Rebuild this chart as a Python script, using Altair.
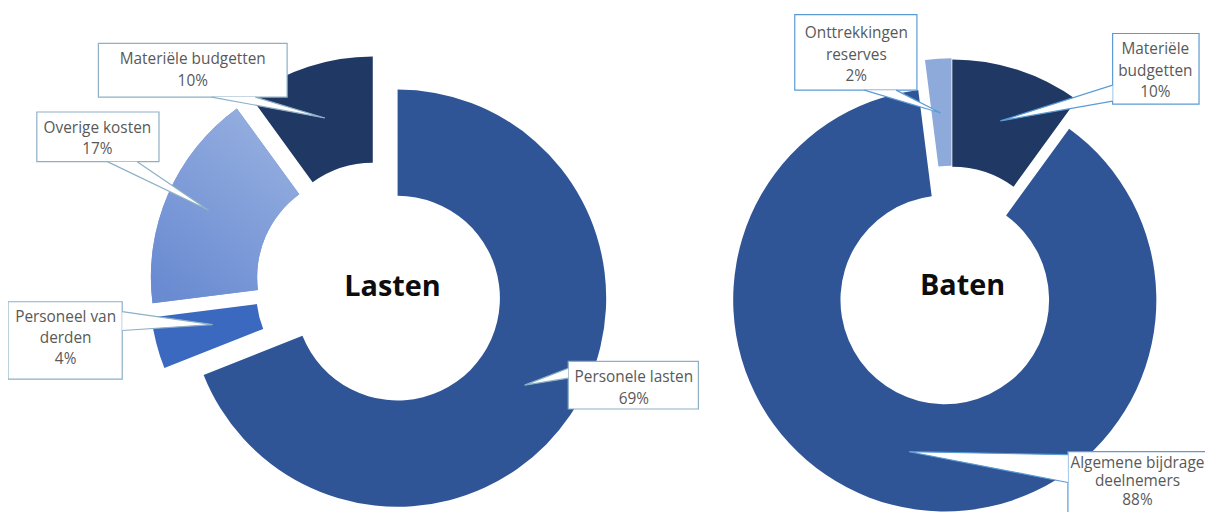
import math
import altair as alt
import pandas as pd

# ---------------- data ----------------
lasten_labels = ["Personele lasten", "Personeel van derden", "Overige kosten", "Materiële budgetten"]
lasten_values = [69, 4, 17, 10]
baten_labels = ["Materiële budgetten", "Algemene bijdrage deelnemers", "Onttrekkingen reserves"]
baten_values = [10, 88, 2]

lasten_text = [["Personele lasten", "69%"], ["Personeel van", "derden", "4%"],
               ["Overige kosten", "17%"], ["Materiële budgetten", "10%"]]
baten_text = [["Materiële", "budgetten", "10%"], ["Algemene bijdrage", "deelnemers", "88%"],
              ["Onttrekkingen", "reserves", "2%"]]

# ---------------- style ----------------
OFF = 8  # page margin
color_domain = ["Materiële budgetten", "Personele lasten", "Algemene bijdrage deelnemers",
                "Personeel van derden", "Overige kosten", "Onttrekkingen reserves"]
color_range = ["#203864", "#2F5597", "#2F5597", "#3B69BF", "#7F9BD6", "#8EAADB"]

# donut geometry: centre, outer, inner radius, explode per slice
L_C, L_R, L_r, L_exp = (382, 286), 210, 103, [22, 22, 22, 22]
B_C, B_R, B_r, B_exp = (958, 273), 213, 105, [2, 28, 3]

# callout boxes (x0, x1, y0, y1), text centre x, first line y, pointer base pts + tip
L_BOX = "#8DB0C6"
B_BOX = "#5B9BD5"
lasten_callouts = [
    dict(box=(572, 703, 362, 410), tx=638, ty=378, lh=21.5, ptr=[(572, 369), (528, 386), (572, 379)]),
    dict(box=(8, 123, 302, 380), tx=66, ty=317, lh=21.5, ptr=[(123, 312), (214, 325), (123, 331)]),
    dict(box=(37, 160, 111, 161), tx=98, ty=127, lh=21.5, ptr=[(108, 161), (210, 210), (138, 161)]),
    dict(box=(99, 289, 42, 96), tx=194, ty=58, lh=21.5, ptr=[(213, 96), (327, 117), (257, 96)]),
]
baten_callouts = [
    dict(box=(1120, 1207, 32, 103), tx=1163, ty=48, lh=21.5, ptr=[(1120, 84), (1007, 120), (1120, 100)]),
    dict(box=(1075, 1240, 453, 540), tx=1145, ty=464, lh=19, ptr=[(1075, 456), (915, 453), (1075, 484)]),
    dict(box=(800, 923, 13, 89), tx=862, ty=32, lh=21.5, ptr=[(870, 89), (947, 112), (902, 89)]),
]


def slices(labels, values, centre, explode):
    total = float(sum(values))
    rows, acc = [], 0.0
    for lab, v, d in zip(labels, values, explode):
        t0 = acc / total * 2 * math.pi
        acc += v
        t1 = acc / total * 2 * math.pi
        mid = (t0 + t1) / 2
        rows.append(dict(label=lab, value=v, t0=t0, t1=t1,
                         cx=centre[0] + d * math.sin(mid) - OFF,
                         cy=centre[1] - d * math.cos(mid) - OFF))
    return pd.DataFrame(rows)


df_l = slices(lasten_labels, lasten_values, L_C, L_exp)
df_b = slices(baten_labels, baten_values, B_C, B_exp)

box_rows, ptr_rows, txt_rows = [], [], []
pid = 0
for callouts, texts, stroke in [(lasten_callouts, lasten_text, L_BOX), (baten_callouts, baten_text, B_BOX)]:
    for c, lines in zip(callouts, texts):
        x0, x1, y0, y1 = c["box"]
        box_rows.append(dict(x0=x0 - OFF, x1=x1 - OFF, y0=y0 - OFF, y1=y1 - OFF, stroke=stroke))
        for k, (px, py) in enumerate(c["ptr"]):
            ptr_rows.append(dict(id=pid, k=k, x=px - OFF, y=py - OFF, stroke=stroke))
        pid += 1
        for i, t in enumerate(lines):
            txt_rows.append(dict(x=c["tx"] - OFF, y=c["ty"] + i * c["lh"] - OFF, text=t))

df_box = pd.DataFrame(box_rows)
df_ptr = pd.DataFrame(ptr_rows)
df_txt = pd.DataFrame(txt_rows)
df_title = pd.DataFrame([dict(x=395 - OFF, y=287 - OFF, text="Lasten"),
                         dict(x=969 - OFF, y=286 - OFF, text="Baten")])

X = lambda f: alt.X(f"{f}:Q", scale=None, axis=None)
Y = lambda f: alt.Y(f"{f}:Q", scale=None, axis=None)
col = alt.Color("label:N", scale=alt.Scale(domain=color_domain, range=color_range), legend=None)
arc_enc = dict(x=X("cx"), y=Y("cy"), theta=alt.Theta("t0:Q", scale=None), theta2="t1:Q")

arcs_l = alt.Chart(df_l).mark_arc(innerRadius=L_r, outerRadius=L_R).encode(color=col, **arc_enc)
overige_grad = alt.Chart(df_l).transform_filter(alt.datum.label == "Overige kosten").mark_arc(
    innerRadius=L_r, outerRadius=L_R,
    color=alt.Gradient(gradient="linear", x1=0.8, y1=0, x2=0.2, y2=1,
                       stops=[alt.GradientStop(color="#97B0E0", offset=0),
                              alt.GradientStop(color="#6A8BD2", offset=1)])
).encode(**arc_enc)
arcs_b = alt.Chart(df_b).mark_arc(innerRadius=B_r, outerRadius=B_R).encode(color=col, **arc_enc)

boxes = alt.Chart(df_box).mark_rect(fill="white", strokeWidth=1.2).encode(
    x=X("x0"), x2="x1:Q", y=Y("y0"), y2="y1:Q", stroke=alt.Stroke("stroke:N", scale=None))

ptrs = alt.Chart(df_ptr).mark_line(fill="white", strokeWidth=1.2, interpolate="linear").encode(
    x=X("x"), y=Y("y"), detail="id:N", order="k:Q", stroke=alt.Stroke("stroke:N", scale=None))

texts = alt.Chart(df_txt).mark_text(font="Open Sans", fontSize=15.5, color="#595959",
                                    align="center", baseline="middle").encode(
    x=X("x"), y=Y("y"), text="text:N")

titles = alt.Chart(df_title).mark_text(font="Open Sans", fontSize=29, fontWeight="bold",
                                       color="#0d0d0d", align="center", baseline="middle").encode(
    x=X("x"), y=Y("y"), text="text:N")

chart = alt.layer(arcs_l, overige_grad, arcs_b, boxes, ptrs, texts, titles).properties(
    width=1205, height=504, padding=0, autosize="none"
).configure_view(stroke=None)

chart.save("out.html", embed_options={"renderer": "svg", "actions": False})
